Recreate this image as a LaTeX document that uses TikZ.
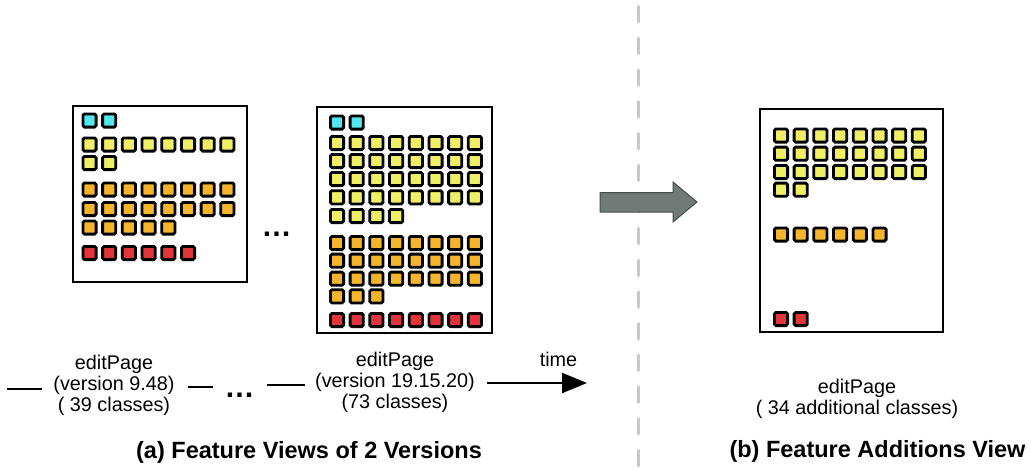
\documentclass[tikz,border=0pt]{standalone}
\usepackage{fontspec}
\setmainfont{Liberation Sans}
\usetikzlibrary{arrows.meta}

\definecolor{clscyan}{HTML}{52E6EE}
\definecolor{clsyellow}{HTML}{EFEF66}
\definecolor{clsorange}{HTML}{F4B52C}
\definecolor{clsred}{HTML}{E3343A}
\definecolor{divider}{HTML}{C8C8C8}
\definecolor{bigarrow}{HTML}{717A76}
\definecolor{bigarrowline}{HTML}{474C4A}

\tikzset{
  cls/.style={draw=black, line width=2.8pt, rounded corners=1.5pt,
    minimum size=13.2pt, inner sep=0pt, fill=#1},
  panel/.style={draw=black, line width=2.8pt, inner sep=0pt, fill=white},
  lbl/.style={font=\fontsize{19.8}{21}\selectfont, anchor=base, inner sep=0pt},
  ttl/.style={font=\fontsize{23.5}{26}\selectfont\bfseries, anchor=base, inner sep=0pt},
  dots/.style={font=\fontsize{30}{30}\selectfont\bfseries, anchor=base, inner sep=0pt},
  tline/.style={line width=2pt},
}

% one row of class squares: prefix, colour, first x, y, count
\newcommand{\squarerow}[5]{%
  \foreach \k in {1,...,#5}{%
    \node[cls=#2] (#1-\k) at ({#3+(\k-1)*19.7},#4) {};}}

\begin{document}
\begin{tikzpicture}[x=1pt,y=-1pt]
\useasboundingbox (0,0) rectangle (1031,469);

% divider between the two halves
\draw[divider, line width=3pt, line cap=round, dash pattern=on 15.5pt off 16.2pt]
  (638,6.5) -- (638,469);

% version 9.48
\node[panel, minimum width=174pt, minimum height=176pt] (v1) at (160,194) {};
\squarerow{v1c1}{clscyan}{89.5}{120.5}{2}
\squarerow{v1y1}{clsyellow}{89.5}{144.5}{8}
\squarerow{v1y2}{clsyellow}{89.5}{163}{2}
\squarerow{v1o1}{clsorange}{89.5}{189.5}{8}
\squarerow{v1o2}{clsorange}{89.5}{209}{8}
\squarerow{v1o3}{clsorange}{89.5}{227.5}{5}
\squarerow{v1r1}{clsred}{89.5}{253}{6}

% version 19.15.20
\node[panel, minimum width=175pt, minimum height=226pt] (v2) at (404.5,220) {};
\squarerow{v2c1}{clscyan}{337}{122.5}{2}
\squarerow{v2y1}{clsyellow}{337}{143}{8}
\squarerow{v2y2}{clsyellow}{337}{161}{8}
\squarerow{v2y3}{clsyellow}{337}{179}{8}
\squarerow{v2y4}{clsyellow}{337}{197.3}{8}
\squarerow{v2y5}{clsyellow}{337}{216}{4}
\squarerow{v2o1}{clsorange}{337}{243}{8}
\squarerow{v2o2}{clsorange}{337}{260.7}{8}
\squarerow{v2o3}{clsorange}{337}{278.7}{8}
\squarerow{v2o4}{clsorange}{337}{296.3}{3}
\squarerow{v2r1}{clsred}{337}{320}{8}

% additions view
\node[panel, minimum width=183pt, minimum height=223pt] (add) at (851.5,220.5) {};
\squarerow{ady1}{clsyellow}{781}{135.5}{8}
\squarerow{ady2}{clsyellow}{781}{153.7}{8}
\squarerow{ady3}{clsyellow}{781}{172}{8}
\squarerow{ady4}{clsyellow}{781}{189.7}{2}
\squarerow{ado1}{clsorange}{781}{234.5}{6}
\squarerow{adr1}{clsred}{781}{319}{2}

% elision between the versions
\node[dots] (gap) at (276.7,236) {…};

% transformation arrow
\draw[fill=bigarrow, draw=bigarrowline, line width=1pt, line join=miter]
  (600,192.5) -- (673,192.5) -- (673,182) -- (697,202) -- (673,222)
  -- (673,212) -- (600,212) -- cycle;

% labels
\node[lbl] (l1a) at (114,369) {editPage};
\node[lbl] (l1b) at (114,390) {(version 9.48)};
\node[lbl] (l1c) at (114,411) {( 39 classes)};

\node[lbl] (l2a) at (395,366) {editPage};
\node[lbl] (l2b) at (395,387) {(version 19.15.20)};
\node[lbl] (l2c) at (395,408) {(73 classes)};

\node[lbl] (tm) at (558.5,366) {time};

\node[lbl] (l3a) at (857,393) {editPage};
\node[lbl] (l3b) at (857,414) {( 34 additional classes)};

% timeline
\coordinate (ta) at (7,389);
\coordinate (tb) at (42,389);
\coordinate (tc) at (188,387);
\coordinate (td) at (213,387);
\coordinate (te) at (267,385);
\coordinate (tf) at (305,385);
\coordinate (tg) at (487,383);
\coordinate (th) at (587,383);
\draw[tline] (ta) -- (tb);
\draw[tline] (tc) -- (td);
\node[dots] (tgap) at (239.5,397.5) {…};
\draw[tline] (te) -- (tf);
\draw[tline, -{Triangle[length=25pt,width=20pt]}] (tg) -- (th);

% captions
\node[ttl] (capa) at (309,458) {(a) Feature Views of 2 Versions};
\node[ttl] (capb) at (877.5,457) {(b) Feature Additions View};
\end{tikzpicture}
\end{document}
